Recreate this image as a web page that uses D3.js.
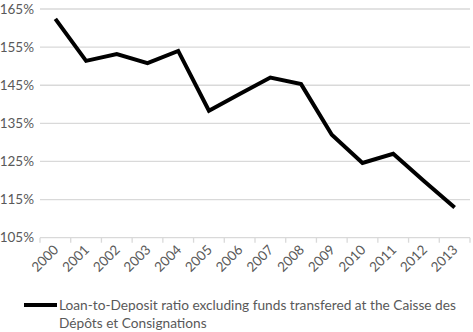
<!DOCTYPE html>
<html>
<head>
<meta charset="utf-8">
<script src="https://cdn.jsdelivr.net/npm/d3@7"></script>
<style>
  body { margin: 0; background: #fff; }
  text { font-family: Lato, "Open Sans", sans-serif; fill: #595959; }
</style>
</head>
<body>
<div id="chart"></div>
<script>
const years = ["2000","2001","2002","2003","2004","2005","2006","2007","2008","2009","2010","2011","2012","2013"]
const ratio = [162.4, 151.4, 153.2, 150.8, 154.0, 138.3, 142.7, 147.0, 145.3, 132.0, 124.6, 127.0, 119.9, 112.9]
const yTicks = [105, 115, 125, 135, 145, 155, 165]
const legendLines = ["Loan-to-Deposit ratio excluding funds transfered at the Caisse des", "Dépôts et Consignations"]

const width = 473
const height = 332
const margin = { top: 9, right: 3, bottom: 94, left: 40 }

const svg = d3.select('#chart')
    .append('svg')
    .attr('width', width)
    .attr('height', height)

const x = d3.scaleBand()
    .domain(years)
    .range([margin.left, width - margin.right])

const y = d3.scaleLinear()
    .domain([105, 165])
    .range([height - margin.bottom - 0.3, margin.top])

// gridlines
svg.append('g')
    .selectAll('line')
    .data(yTicks)
    .enter()
    .append('line')
    .attr('x1', margin.left)
    .attr('x2', width - margin.right)
    .attr('y1', d => y(d))
    .attr('y2', d => y(d))
    .style('stroke', '#d9d9d9')
    .style('stroke-width', 1.3)

// y labels
svg.append('g')
    .selectAll('text')
    .data(yTicks)
    .enter()
    .append('text')
    .attr('x', 34)
    .attr('y', d => y(d))
    .attr('dy', '0.35em')
    .attr('text-anchor', 'end')
    .style('font-size', '13.5px')
    .text(d => d + '%')

// x axis ticks
const bounds = years.map(d => x(d)).concat([x.range()[1]])
svg.append('g')
    .selectAll('line')
    .data(bounds)
    .enter()
    .append('line')
    .attr('x1', d => d)
    .attr('x2', d => d)
    .attr('y1', y(105))
    .attr('y2', y(105) + 5)
    .style('stroke', '#d9d9d9')
    .style('stroke-width', 1.3)

svg.append('g')
    .selectAll('text')
    .data(years)
    .enter()
    .append('text')
    .attr('text-anchor', 'end')
    .attr('transform', d => 'translate(' + (x(d) + x.bandwidth() / 2 + 4) + ',' + (y(105) + 13) + ') rotate(-45)')
    .style('font-size', '13.5px')
    .text(d => d)

// data line
const line = d3.line()
    .x((d, i) => x(years[i]) + x.bandwidth() / 2)
    .y(d => y(d))

svg.append('path')
    .datum(ratio)
    .attr('d', line)
    .style('fill', 'none')
    .style('stroke', '#000')
    .style('stroke-width', 4)
    .style('stroke-linejoin', 'miter')

// legend
svg.append('line')
    .attr('x1', 24)
    .attr('x2', 57)
    .attr('y1', 305)
    .attr('y2', 305)
    .style('stroke', '#000')
    .style('stroke-width', 4)

svg.append('g')
    .selectAll('text')
    .data(legendLines)
    .enter()
    .append('text')
    .attr('x', 59)
    .attr('y', (d, i) => 305 + i * 18)
    .attr('dy', '0.35em')
    .style('font-size', '13.7px')
    .text(d => d)
</script>
</body>
</html>
